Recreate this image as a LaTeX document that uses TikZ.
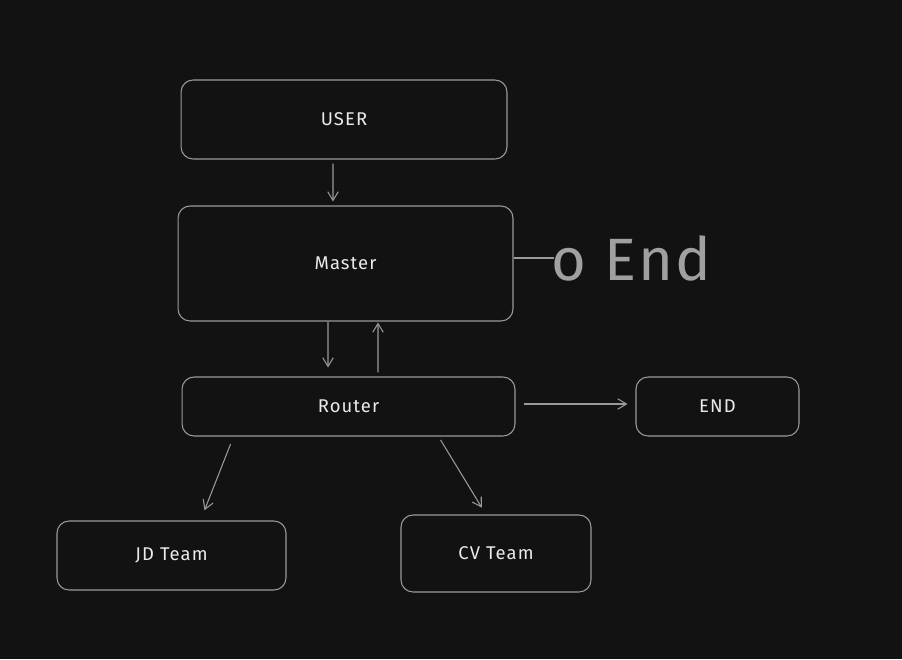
\documentclass[tikz,border=0pt]{standalone}
\usepackage{fontspec}
\setmainfont{Fira Sans}
\usetikzlibrary{arrows.meta}
\definecolor{bgdark}{HTML}{121212}
\definecolor{strokegray}{HTML}{9A9A9A}
\definecolor{textlight}{HTML}{EAEAEA}
\definecolor{notegray}{HTML}{A0A0A0}

\begin{document}
\begin{tikzpicture}[x=0.02cm,y=-0.02cm,shorten >=1pt,->,>={Straight Barb[length=5pt,width=6pt]},draw=strokegray,line width=0.6pt]
    \tikzstyle{box}=[draw=strokegray,rounded corners=0.24cm,text=textlight,font=\fontsize{10.5}{12}\selectfont\addfontfeature{LetterSpace=6},inner sep=0pt]
    \tikzstyle{note}=[text=notegray,font=\fontsize{34}{36}\selectfont\addfontfeature{LetterSpace=4},anchor=west,inner sep=0pt]

    % dark canvas
    \fill[bgdark] (0,0) rectangle (902,659);

    %%%%%%%%%%%%%%%%%%%%%%%%%%%%%%%%%%%%%%%%%%%%
    %%% DRAW THE NODES
    %%%%%%%%%%%%%%%%%%%%%%%%%%%%%%%%%%%%%%%%%%%%
    \foreach \name/\x/\y/\w/\h/\txt in {user/344/119.5/6.52/1.58/USER,
                                       master/345.5/263.5/6.70/2.30/Master,
                                       router/348.5/406.5/6.66/1.18/Router,
                                       end/717.5/406.5/3.26/1.18/END,
                                       jd/171.5/555.5/4.58/1.38/JD Team,
                                       cv/496/553.5/3.80/1.54/CV Team}
        \node[box,minimum width=\w cm,minimum height=\h cm] (\name) at (\x,\y) {\txt};

    \coordinate (tail) at (554,258);
    \node[note] (endnote) at (551,258) {o End};

    %%%%%%%%%%%%%%%%%%%%%%%%%%%%%%%%%%%%%%%%%%%%
    %%% DRAW THE PATHS
    %%%%%%%%%%%%%%%%%%%%%%%%%%%%%%%%%%%%%%%%%%%%
    \draw[shorten <=0.08cm,shorten >=0.08cm] ([xshift=-0.22cm]user.south) -- ([xshift=-0.25cm]master.north);
    \draw[shorten <=0pt,shorten >=0.18cm] ([xshift=-0.35cm]master.south) -- ([xshift=-0.41cm]router.north);
    \draw[shorten <=0.08cm,shorten >=0.02cm] ([xshift=0.59cm]router.north) -- ([xshift=0.65cm]master.south);
    \draw[shorten <=0.16cm,shorten >=0.16cm] ([yshift=0.05cm]router.east) -- ([yshift=0.05cm]end.west);
    \draw[shorten <=0.16cm,shorten >=0.22cm] ([xshift=-2.30cm]router.south) -- ([xshift=0.58cm]jd.north);
    \draw[shorten <=0.08cm,shorten >=0.16cm] ([xshift=1.80cm]router.south) -- ([xshift=-0.20cm]cv.north);

    % loose end off the master box
    \draw[-,shorten >=0pt] (master.east |- tail) -- (tail);
\end{tikzpicture}
\end{document}
